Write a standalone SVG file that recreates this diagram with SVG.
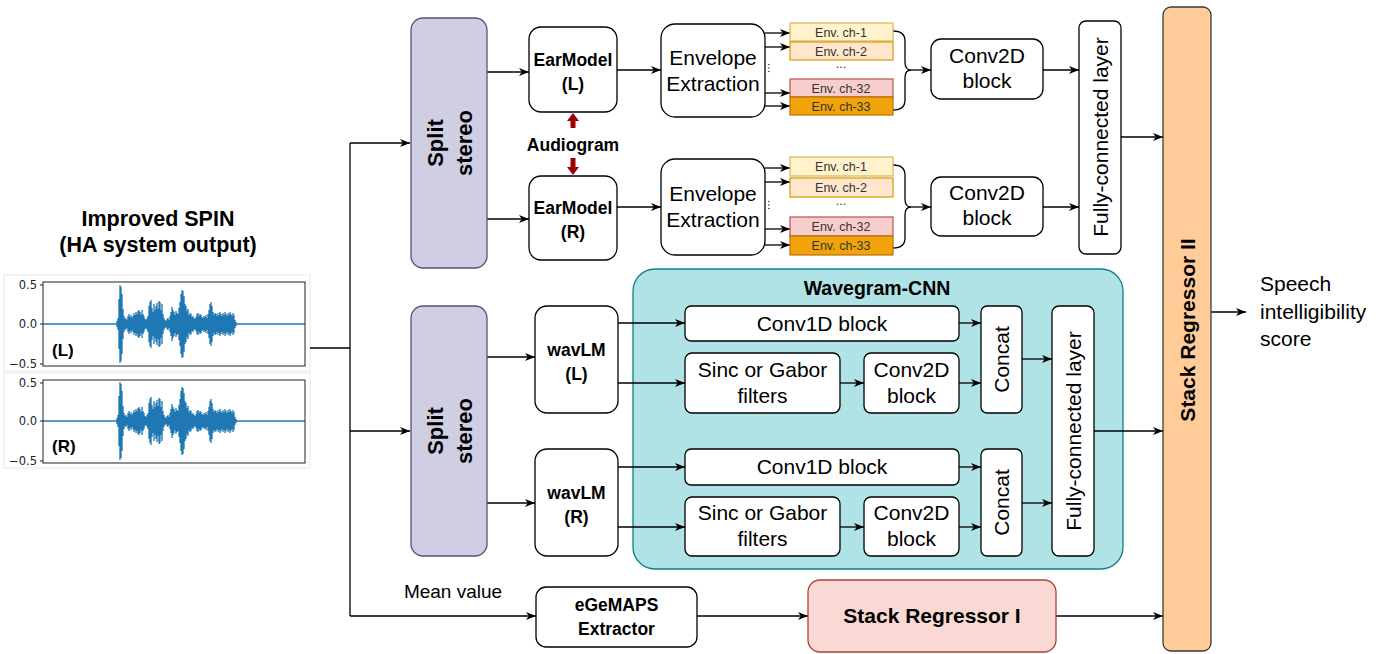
<svg xmlns="http://www.w3.org/2000/svg" width="1390" height="654" viewBox="0 0 1390 654">
<style>
text{font-family:"Liberation Sans",Arial,sans-serif;fill:#000}
.t{font-size:21px;text-anchor:middle}
.b{font-weight:bold}
.m{font-size:17.5px;font-weight:bold;text-anchor:middle}
.env{font-size:12.5px;text-anchor:middle;fill:#333}
.box{fill:#fff;stroke:#000;stroke-width:1.3}
.split{fill:#d0cee2;stroke:#56517e;stroke-width:1.3}
.ln{fill:none;stroke:#000;stroke-width:1.3}
.ar{fill:none;stroke:#000;stroke-width:1.3;marker-end:url(#ah)}
.tick{font-family:"DejaVu Sans",sans-serif;font-size:11.5px;text-anchor:end;fill:#222}
</style>
<defs>
<marker id="ah" viewBox="0 0 10 9" refX="10" refY="4.5" markerWidth="10" markerHeight="9" markerUnits="userSpaceOnUse" orient="auto">
<path d="M0,0.5 L10,4.5 L0,8.5 L2.8,4.5 Z" fill="#000"/>
</marker>
<g id="wave">
<path d="M43,0H305" stroke="#1f77b4" stroke-width="1.3" fill="none"/>
<path stroke="#1f77b4" stroke-width="1.3" fill="none" d="M117,-3V3M118,-6V6M119,-25V25M120,-39V39M121,-37V37M122,-30V30M123,-15V15M124,-8V8M125,-5V5M126,-6V6M127,-4V4M128,-8V8M129,-10V10M130,-7V7M131,-9V9M132,-6V6M133,-8V8M134,-11V11M135,-9V9M136,-12V12M137,-10V10M138,-13V13M139,-14V14M140,-12V12M141,-9V9M142,-14V14M143,-10V10M144,-8V8M145,-5V5M146,-4V4M147,-6V6M148,-8V8M149,-18V18M150,-22V22M151,-24V24M152,-16V16M153,-12V12M154,-20V20M155,-14V14M156,-18V18M157,-21V21M158,-15V15M159,-23V23M160,-22V22M161,-14V14M162,-20V20M163,-10V10M164,-6V6M165,-4V4M166,-3V3M167,-5V5M168,-6V6M169,-4V4M170,-8V8M171,-12V12M172,-17V17M173,-14V14M174,-12V12M175,-9V9M176,-13V13M177,-11V11M178,-10V10M179,-16V16M180,-22V22M181,-30V30M182,-34V34M183,-33V33M184,-28V28M185,-20V20M186,-18V18M187,-13V13M188,-15V15M189,-9V9M190,-11V11M191,-10V10M192,-7V7M193,-8V8M194,-6V6M195,-5V5M196,-7V7M197,-10V10M198,-11V11M199,-8V8M200,-10V10M201,-9V9M202,-7V7M203,-6V6M204,-8V8M205,-7V7M206,-9V9M207,-6V6M208,-10V10M209,-14V14M210,-20V20M211,-22V22M212,-18V18M213,-12V12M214,-9V9M215,-11V11M216,-10V10M217,-8V8M218,-11V11M219,-9V9M220,-12V12M221,-10V10M222,-8V8M223,-11V11M224,-9V9M225,-12V12M226,-10V10M227,-8V8M228,-11V11M229,-9V9M230,-12V12M231,-10V10M232,-8V8M233,-11V11M234,-9V9M235,-4V4M236,-2V2"/>
</g>
</defs>

<!-- Input title and plots -->
<g id="input">
<text class="b" x="158" y="226" font-size="21.5" text-anchor="middle">Improved SPIN</text>
<text class="b" x="158" y="252" font-size="21.5" text-anchor="middle">(HA system output)</text>
<rect x="4" y="275" width="306" height="96" fill="#fff" stroke="#e8e8e8" stroke-width="1"/>
<rect x="4" y="373" width="306" height="95" fill="#fff" stroke="#e8e8e8" stroke-width="1"/>
<use href="#wave" transform="translate(0,324)"/>
<use href="#wave" transform="translate(0,421)"/>
<rect x="43" y="282" width="262" height="84" fill="none" stroke="#222" stroke-width="1"/>
<rect x="43" y="380" width="262" height="83" fill="none" stroke="#222" stroke-width="1"/>
<path d="M40,285H43M40,324H43M40,364H43M40,383H43M40,421H43M40,461H43" stroke="#222" stroke-width="1"/>
<text class="tick" x="37" y="289">0.5</text>
<text class="tick" x="37" y="328">0.0</text>
<text class="tick" x="37" y="368">−0.5</text>
<text class="tick" x="37" y="387">0.5</text>
<text class="tick" x="37" y="425">0.0</text>
<text class="tick" x="37" y="465">−0.5</text>
<text class="b" x="52" y="356" font-size="17">(L)</text>
<text class="b" x="52" y="452" font-size="17">(R)</text>
</g>

<!-- Wavegram-CNN container (drawn below connectors) -->
<g id="wavegram">
<rect x="633" y="269" width="490" height="300" rx="22" fill="#b0e3e6" stroke="#0e8088" stroke-width="1.3"/>
<text class="b" x="877" y="295" font-size="19.5" text-anchor="middle">Wavegram-CNN</text>
</g>

<!-- Connectors -->
<g id="connectors">
<path class="ln" d="M310,348H350M350,143V616"/>
<path class="ar" d="M350,143H410"/>
<path class="ar" d="M350,431H410"/>
<path class="ar" d="M350,616H536"/>
<path class="ar" d="M487,72H529"/>
<path class="ar" d="M487,219H529"/>
<path class="ar" d="M617,70H661"/>
<path class="ar" d="M617,207H661"/>
<path class="ar" d="M765,33H790"/>
<path class="ar" d="M765,47H790"/>
<path class="ar" d="M765,93H790"/>
<path class="ar" d="M765,106H790"/>
<path class="ar" d="M765,168H790"/>
<path class="ar" d="M765,182H790"/>
<path class="ar" d="M765,229H790"/>
<path class="ar" d="M765,245H790"/>
<path class="ln" d="M893,31Q905,31 905,41V62Q905,70 911,70Q905,70 905,78V100Q905,110 893,110"/>
<path class="ln" d="M893,165Q905,165 905,175V199Q905,207 911,207Q905,207 905,215V238Q905,248 893,248"/>
<path class="ar" d="M911,70H931"/>
<path class="ar" d="M911,207H931"/>
<path class="ar" d="M1043,70H1079"/>
<path class="ar" d="M1043,207H1079"/>
<path class="ar" d="M1121,137H1163"/>
<path class="ar" d="M487,357H535"/>
<path class="ar" d="M487,503H535"/>
<path class="ar" d="M618,323H685"/>
<path class="ar" d="M618,383H685"/>
<path class="ar" d="M618,467H685"/>
<path class="ar" d="M618,527H685"/>
<path class="ar" d="M840,383H864"/>
<path class="ar" d="M840,527H864"/>
<path class="ar" d="M959,323H981"/>
<path class="ar" d="M959,383H981"/>
<path class="ar" d="M959,467H981"/>
<path class="ar" d="M959,527H981"/>
<path class="ar" d="M1022,359H1052"/>
<path class="ar" d="M1022,503H1052"/>
<path class="ar" d="M1094,431H1163"/>
<path class="ar" d="M697,616H808"/>
<path class="ar" d="M1056,616H1163"/>
<path class="ar" d="M1211,312H1246"/>
<polygon points="573,113 579,121 575.5,121 575.5,128 570.5,128 570.5,121 567,121" fill="#990000"/>
<polygon points="573,175 579,167 575.5,167 575.5,158 570.5,158 570.5,167 567,167" fill="#990000"/>
</g>

<!-- Split stereo -->
<g id="split1">
<rect class="split" x="411" y="18" width="76" height="250" rx="12"/>
<g transform="translate(449,143) rotate(-90)"><text class="b" font-size="22" text-anchor="middle" y="-6">Split</text><text class="b" font-size="22" text-anchor="middle" y="23">stereo</text></g>
</g>
<g id="split2">
<rect class="split" x="411" y="306" width="76" height="250" rx="12"/>
<g transform="translate(449,431) rotate(-90)"><text class="b" font-size="22" text-anchor="middle" y="-6">Split</text><text class="b" font-size="22" text-anchor="middle" y="23">stereo</text></g>
</g>

<!-- Ear models -->
<g id="earL"><rect class="box" x="529" y="27" width="88" height="85" rx="12"/><text class="m" x="573" y="66">EarModel</text><text class="m" x="573" y="90">(L)</text></g>
<g id="earR"><rect class="box" x="529" y="176" width="88" height="84" rx="12"/><text class="m" x="573" y="214">EarModel</text><text class="m" x="573" y="238">(R)</text></g>
<g id="audiogram"><text class="m" x="573" y="151">Audiogram</text></g>

<!-- Envelope extraction -->
<g id="envL"><rect class="box" x="661" y="24" width="104" height="93" rx="14"/><text class="t" x="713" y="65">Envelope</text><text class="t" x="713" y="91">Extraction</text></g>
<g id="envR"><rect class="box" x="661" y="159" width="104" height="96" rx="14"/><text class="t" x="713" y="201">Envelope</text><text class="t" x="713" y="227">Extraction</text></g>

<!-- Channels -->
<g id="chL">
<rect x="790" y="23" width="103" height="18" fill="#fff2cc" stroke="#d6b656" stroke-width="1.2"/><text class="env" x="841" y="36.5">Env. ch-1</text>
<rect x="790" y="42" width="103" height="18" fill="#ffe6cc" stroke="#d79b00" stroke-width="1.2"/><text class="env" x="841" y="55.5">Env. ch-2</text>
<text class="env" x="841" y="68">...</text>
<text class="env" transform="translate(772,68) rotate(90)" x="0" y="4">...</text>
<rect x="790" y="79" width="103" height="18" fill="#f8cecc" stroke="#b85450" stroke-width="1.2"/><text class="env" x="841" y="92.5">Env. ch-32</text>
<rect x="790" y="97" width="103" height="18" fill="#f0a30a" stroke="#bd7000" stroke-width="1.2"/><text class="env" x="841" y="110.5">Env. ch-33</text>
</g>
<g id="chR">
<rect x="790" y="157" width="103" height="19" fill="#fff2cc" stroke="#d6b656" stroke-width="1.2"/><text class="env" x="841" y="171">Env. ch-1</text>
<rect x="790" y="178" width="103" height="19" fill="#ffe6cc" stroke="#d79b00" stroke-width="1.2"/><text class="env" x="841" y="192">Env. ch-2</text>
<text class="env" x="841" y="205">...</text>
<text class="env" transform="translate(772,205) rotate(90)" x="0" y="4">...</text>
<rect x="790" y="217" width="103" height="19" fill="#f8cecc" stroke="#b85450" stroke-width="1.2"/><text class="env" x="841" y="231">Env. ch-32</text>
<rect x="790" y="236" width="103" height="19" fill="#f0a30a" stroke="#bd7000" stroke-width="1.2"/><text class="env" x="841" y="250">Env. ch-33</text>
</g>

<!-- Conv2D blocks upper -->
<g id="conv2dL"><rect class="box" x="931" y="39" width="112" height="60" rx="10"/><text class="t" x="987" y="63">Conv2D</text><text class="t" x="987" y="88">block</text></g>
<g id="conv2dR"><rect class="box" x="931" y="177" width="112" height="59" rx="10"/><text class="t" x="987" y="200">Conv2D</text><text class="t" x="987" y="225">block</text></g>
<g id="fc1"><rect class="box" x="1079" y="21" width="42" height="233" rx="7"/><text class="t" transform="translate(1100,137) rotate(-90)" y="7.5">Fully-connected layer</text></g>

<!-- wavLM -->
<g id="wavlmL"><rect class="box" x="535" y="306" width="83" height="107" rx="12"/><text class="m" x="576.5" y="356">wavLM</text><text class="m" x="576.5" y="380">(L)</text></g>
<g id="wavlmR"><rect class="box" x="535" y="449" width="83" height="107" rx="12"/><text class="m" x="576.5" y="499">wavLM</text><text class="m" x="576.5" y="523">(R)</text></g>

<!-- Wavegram-CNN inner blocks -->
<g id="conv1dL"><rect class="box" x="685" y="306" width="274" height="35" rx="6"/><text class="t" x="822" y="331">Conv1D block</text></g>
<g id="sincL"><rect class="box" x="685" y="353" width="155" height="60" rx="7"/><text class="t" x="762.5" y="377">Sinc or Gabor</text><text class="t" x="762.5" y="403">filters</text></g>
<g id="conv2dWL"><rect class="box" x="864" y="353" width="95" height="60" rx="7"/><text class="t" x="911.5" y="377">Conv2D</text><text class="t" x="911.5" y="403">block</text></g>
<g id="concatL"><rect class="box" x="981" y="306" width="41" height="107" rx="6"/><text class="t" transform="translate(1001.5,359.5) rotate(-90)" y="7.5">Concat</text></g>
<g id="conv1dR"><rect class="box" x="685" y="449" width="274" height="36" rx="6"/><text class="t" x="822" y="474">Conv1D block</text></g>
<g id="sincR"><rect class="box" x="685" y="497" width="155" height="59" rx="7"/><text class="t" x="762.5" y="520">Sinc or Gabor</text><text class="t" x="762.5" y="546">filters</text></g>
<g id="conv2dWR"><rect class="box" x="864" y="497" width="95" height="59" rx="7"/><text class="t" x="911.5" y="520">Conv2D</text><text class="t" x="911.5" y="546">block</text></g>
<g id="concatR"><rect class="box" x="981" y="449" width="41" height="107" rx="6"/><text class="t" transform="translate(1001.5,502.5) rotate(-90)" y="7.5">Concat</text></g>
<g id="fc2"><rect class="box" x="1052" y="306" width="42" height="250" rx="7"/><text class="t" transform="translate(1073,431) rotate(-90)" y="7.5">Fully-connected layer</text></g>

<!-- Bottom row -->
<g id="meanlabel"><text x="453" y="598" font-size="19" text-anchor="middle">Mean value</text></g>
<g id="egemaps"><rect class="box" x="536" y="587" width="161" height="60" rx="10"/><text class="m" x="616.5" y="611">eGeMAPS</text><text class="m" x="616.5" y="635">Extractor</text></g>
<g id="stack1"><rect x="808" y="580" width="248" height="72" rx="12" fill="#fad9d5" stroke="#ae4132" stroke-width="1.3"/><text class="b" x="932" y="623" font-size="21" text-anchor="middle">Stack Regressor I</text></g>
<g id="stack2"><rect x="1163" y="7" width="48" height="644" rx="8" fill="#ffcc99" stroke="#36393d" stroke-width="1.3"/><text class="b" font-size="21" text-anchor="middle" transform="translate(1187,330) rotate(-90)" y="7.5">Stack Regressor II</text></g>
<g id="output">
<text x="1260" y="291" font-size="21">Speech</text>
<text x="1260" y="319" font-size="21">intelligibility</text>
<text x="1260" y="346" font-size="21">score</text>
</g>
</svg>
